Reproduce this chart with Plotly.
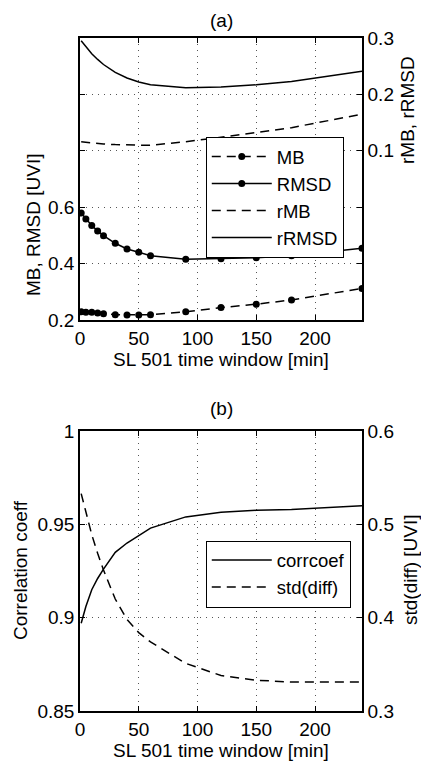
import plotly.graph_objects as go

# ---- data ----
time_window = [1, 5, 10, 15, 20, 30, 40, 50, 60, 90, 120, 150, 180, 240]
mb = [0.229, 0.227, 0.227, 0.225, 0.222, 0.219, 0.218, 0.218, 0.219, 0.229, 0.244, 0.256, 0.271, 0.312]
rmsd = [0.579, 0.558, 0.535, 0.516, 0.499, 0.472, 0.452, 0.440, 0.428, 0.415, 0.417, 0.421, 0.428, 0.454]
rmb = [0.116, 0.115, 0.114, 0.113, 0.112, 0.111, 0.110, 0.110, 0.110, 0.116, 0.124, 0.132, 0.141, 0.165]
rrmsd = [0.295, 0.285, 0.272, 0.262, 0.253, 0.239, 0.229, 0.222, 0.217, 0.212, 0.213, 0.217, 0.223, 0.241]
corrcoef = [0.897, 0.906, 0.915, 0.921, 0.926, 0.935, 0.940, 0.944, 0.948, 0.954, 0.9565, 0.9575, 0.958, 0.960]
std_diff = [0.533, 0.512, 0.489, 0.469, 0.451, 0.420, 0.398, 0.384, 0.374, 0.351, 0.338, 0.333, 0.331, 0.331]

x_ticks = [0, 50, 100, 150, 200]
top_left_ticks = [0.2, 0.4, 0.6, 0.8, 1.0, 1.2]
top_left_labels = ["0.2", "0.4", "0.6", "", "", ""]
top_right_ticks = [-0.2, -0.1, 0.0, 0.1, 0.2, 0.3]
top_right_labels = ["", "", "", "0.1", "0.2", "0.3"]
bot_left_ticks = [0.85, 0.9, 0.95, 1.0]
bot_left_labels = ["0.85", "0.9", "0.95", "1"]
bot_right_ticks = [0.3, 0.4, 0.5, 0.6]
bot_right_labels = ["0.3", "0.4", "0.5", "0.6"]

FONT = "Liberation Sans, Arial, sans-serif"
FS = 19
LFS = 18.5
DASH = "9px,6px"

fig = go.Figure()
fig.add_trace(go.Scatter(x=time_window, y=mb, name="MB", mode="lines+markers",
                         line=dict(color="black", width=1.5, dash=DASH),
                         marker=dict(color="black", size=7), xaxis="x", yaxis="y"))
fig.add_trace(go.Scatter(x=time_window, y=rmsd, name="RMSD", mode="lines+markers",
                         line=dict(color="black", width=1.5),
                         marker=dict(color="black", size=7), xaxis="x", yaxis="y"))
fig.add_trace(go.Scatter(x=time_window, y=rmb, name="rMB", mode="lines",
                         line=dict(color="black", width=1.5, dash=DASH), xaxis="x", yaxis="y2"))
fig.add_trace(go.Scatter(x=time_window, y=rrmsd, name="rRMSD", mode="lines",
                         line=dict(color="black", width=1.5), xaxis="x", yaxis="y2"))
fig.add_trace(go.Scatter(x=time_window, y=corrcoef, name="corrcoef", mode="lines",
                         line=dict(color="black", width=1.5), xaxis="x2", yaxis="y3",
                         legend="legend2"))
fig.add_trace(go.Scatter(x=time_window, y=std_diff, name="std(diff)", mode="lines",
                         line=dict(color="black", width=1.5, dash=DASH), xaxis="x2", yaxis="y4",
                         legend="legend2"))

ax_common = dict(showline=True, linecolor="black", linewidth=1.5, ticks="inside",
                 ticklen=5, tickcolor="black", zeroline=False, automargin=False,
                 tickfont=dict(family=FONT, size=FS, color="black"))
grid = dict(showgrid=True, gridcolor="#555", gridwidth=1, griddash="1px,5px")

TOP_DOM = [0.581, 1.0]
BOT_DOM = [0.0, 0.416]

fig.update_layout(
    width=421, height=761,
    margin=dict(l=80, r=59, t=38, b=50),
    paper_bgcolor="white", plot_bgcolor="white",
    font=dict(family=FONT, size=FS, color="black"),
    xaxis=dict(anchor="y", domain=[0, 1], range=[0, 240], tickvals=x_ticks, mirror="ticks",
               title=dict(text="SL 501 time window [min]", font=dict(size=FS), standoff=0),
               **ax_common, **grid),
    yaxis=dict(domain=TOP_DOM, range=[0.2, 1.2], tickvals=top_left_ticks, ticktext=top_left_labels,
               anchor="x", **ax_common, **grid),
    yaxis2=dict(overlaying="y", side="right", range=[-0.2, 0.3], tickvals=top_right_ticks,
                ticktext=top_right_labels, anchor="x", showgrid=False, **ax_common),
    xaxis2=dict(anchor="y3", domain=[0, 1], range=[0, 240], tickvals=x_ticks, mirror="ticks",
                title=dict(text="SL 501 time window [min]", font=dict(size=FS), standoff=0),
                **ax_common, **grid),
    yaxis3=dict(domain=BOT_DOM, range=[0.85, 1.0], tickvals=bot_left_ticks, ticktext=bot_left_labels,
                anchor="x2", **ax_common, **grid),
    yaxis4=dict(overlaying="y3", side="right", range=[0.3, 0.6], tickvals=bot_right_ticks,
                ticktext=bot_right_labels, anchor="x2", showgrid=False, **ax_common),
    legend=dict(x=0.446, y=0.853, xanchor="left", yanchor="top", bgcolor="white",
                bordercolor="black", borderwidth=1, font=dict(family=FONT, size=LFS),
                itemwidth=60, tracegroupgap=0),
    legend2=dict(x=0.446, y=0.2533, xanchor="left", yanchor="top", bgcolor="white",
                 bordercolor="black", borderwidth=1, font=dict(family=FONT, size=LFS),
                 itemwidth=60),
    showlegend=True,
)

def px2paper(px, py):
    return (px - 80) / 282.0, (711 - py) / 673.0

annos = [
    ("(a)", 221, 20, 0),
    ("(b)", 221, 408, 0),
    ("MB, RMSD [UVI]", 33, 225, -90),
    ("rMB, rRMSD", 408, 110, -90),
    ("Correlation coeff", 20, 570, -90),
    ("std(diff) [UVI]", 410, 570, -90),
]
for text, px, py, ang in annos:
    ax, ay = px2paper(px, py)
    fig.add_annotation(text=text, x=ax, y=ay, xref="paper", yref="paper", showarrow=False,
                       textangle=ang, xanchor="center", yanchor="middle",
                       font=dict(family=FONT, size=FS, color="black"))

fig.write_html("out.html", config={"displayModeBar": False},
               post_script="document.body.style.margin='0';")
